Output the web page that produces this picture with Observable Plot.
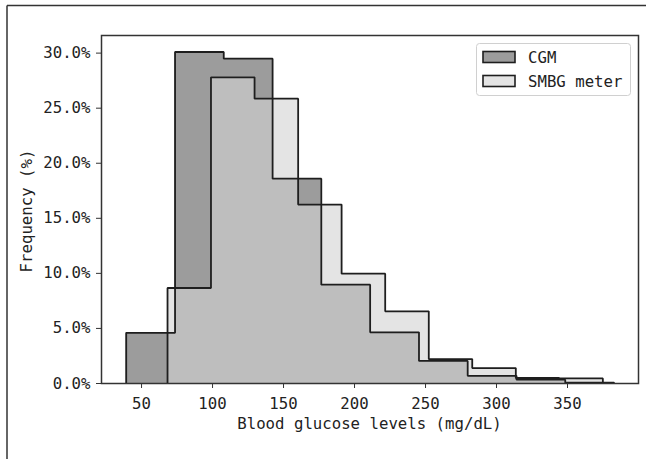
<!DOCTYPE html>
<html><head><meta charset="utf-8">
<script src="https://cdn.jsdelivr.net/npm/d3@7"></script>
<script src="https://cdn.jsdelivr.net/npm/@observablehq/plot@0.6"></script>
<style>html,body{margin:0;padding:0;background:#fff;} #chart{position:relative;width:646px;height:459px;overflow:hidden;}</style>
</head><body><div id="chart"></div>
<script>
// Histogram data (frequency in %)
const cgmEdges = [39.2, 73.6, 107.9, 142.3, 176.6, 211.0, 245.4, 279.7, 314.1, 348.4, 382.8];
const cgmFreq = [4.6, 30.1, 29.5, 18.6, 8.97, 4.65, 2.05, 0.7, 0.35, 0.07];
const smbgEdges = [68.3, 98.9, 129.6, 160.3, 190.9, 221.6, 252.3, 282.9, 313.6, 344.2, 374.9];
const smbgFreq = [8.67, 27.8, 25.86, 16.25, 9.97, 6.55, 2.22, 1.4, 0.5, 0.46];
const xTicks = [50, 100, 150, 200, 250, 300, 350];
const yTicks = [0, 5, 10, 15, 20, 25, 30];
const seriesNames = ["CGM", "SMBG meter"];
const xLabel = "Blood glucose levels (mg/dL)";
const yLabel = "Frequency (%)";

const cgmColor = "#9c9c9c", smbgColor = "#d3d3d3", smbgOpacity = 0.62, edge = "#1e1e1e";
const FONT = "'DejaVu Sans Mono', monospace";
const FS = 15.7;

function outline(edges, freq) {
  const pts = [{x: edges[0], y: 0}];
  freq.forEach((f, i) => { pts.push({x: edges[i], y: f}); pts.push({x: edges[i + 1], y: f}); });
  pts.push({x: edges[edges.length - 1], y: 0});
  return pts;
}
const cgmStep = outline(cgmEdges, cgmFreq);
const smbgStep = outline(smbgEdges, smbgFreq);

const W = 646, H = 459;
const plot = Plot.plot({
  width: W, height: H,
  marginLeft: 101, marginRight: 8, marginTop: 35, marginBottom: 76,
  style: {fontFamily: FONT, fontSize: FS + "px", color: "#222", background: "transparent", overflow: "visible"},
  x: {domain: [21.8, 400], ticks: xTicks},
  y: {domain: [0, 31.6], ticks: yTicks},
  marks: [
    Plot.areaY(cgmStep, {x: "x", y1: 0, y2: "y", fill: cgmColor}),
    Plot.areaY(smbgStep, {x: "x", y1: 0, y2: "y", fill: smbgColor, fillOpacity: smbgOpacity}),
    Plot.line(cgmStep, {x: "x", y: "y", stroke: edge, strokeWidth: 1.8, strokeLinejoin: "miter", strokeLinecap: "butt"}),
    Plot.line(smbgStep, {x: "x", y: "y", stroke: edge, strokeWidth: 1.8, strokeLinejoin: "miter", strokeLinecap: "butt"}),
    Plot.frame({stroke: "#333", strokeWidth: 1.5}),
    Plot.axisX({ticks: xTicks, tickSize: 5, tickPadding: 9, label: null, stroke: "#333", fill: "#222"}),
    Plot.axisY({ticks: yTicks, tickSize: 5, tickPadding: 6, tickFormat: d => d.toFixed(1) + "%", label: null, stroke: "#333", fill: "#222"})
  ]
});
document.getElementById("chart").appendChild(plot);

const svg = d3.select(plot);
// outer figure border (top & left)
svg.append("line").attr("x1", 7).attr("y1", 5.5).attr("x2", W).attr("y2", 5.5).attr("stroke", "#333").attr("stroke-width", 1.5);
svg.append("line").attr("x1", 7).attr("y1", 5.5).attr("x2", 7).attr("y2", H).attr("stroke", "#333").attr("stroke-width", 1.5);

// axis labels
svg.append("text").attr("x", 369.5).attr("y", 429).attr("text-anchor", "middle")
  .attr("font-family", FONT).attr("font-size", FS).attr("fill", "#222").text(xLabel);
svg.append("text").attr("transform", "translate(32,211) rotate(-90)").attr("text-anchor", "middle")
  .attr("font-family", FONT).attr("font-size", FS).attr("fill", "#222").text(yLabel);

// legend
const lg = svg.append("g");
lg.append("rect").attr("x", 476.5).attr("y", 43.5).attr("width", 154).attr("height", 52).attr("rx", 3)
  .attr("fill", "#fff").attr("fill-opacity", 0.8).attr("stroke", "#d0d0d0").attr("stroke-width", 1);
const patches = [{fill: cgmColor, op: 1}, {fill: smbgColor, op: smbgOpacity}];
seriesNames.forEach((name, i) => {
  const y = 51.5 + i * 24;
  lg.append("rect").attr("x", 483).attr("y", y).attr("width", 32).attr("height", 11)
    .attr("fill", patches[i].fill).attr("fill-opacity", patches[i].op).attr("stroke", edge).attr("stroke-width", 1.6);
  lg.append("text").attr("x", 528).attr("y", y + 11.5).attr("text-anchor", "start")
    .attr("font-family", FONT).attr("font-size", FS).attr("fill", "#222").text(name);
});
</script>
</body></html>
